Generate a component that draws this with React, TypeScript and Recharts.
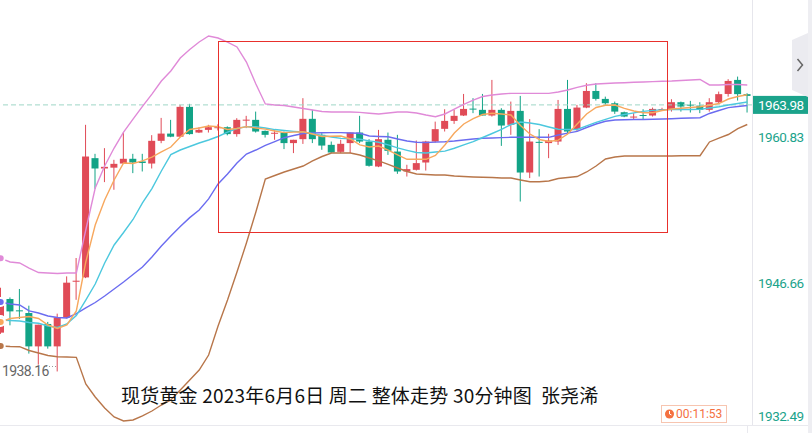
import React from 'react';
import { ComposedChart, XAxis, YAxis, Bar, Line, ReferenceLine } from 'recharts';

const opens = [1941.92,1945.18,1944.08,1943.82,1940.59,1942.76,1940.59,1943.37,1946.85,1947.27,
1958.82,1957.82,1957.90,1958.30,1958.76,1958.50,1958.30,1960.50,1961.20,1960.90,
1963.79,1961.30,1961.56,1961.72,1961.82,1961.15,1962.50,1962.53,1961.46,1961.20,
1961.30,1960.28,1960.66,1962.63,1961.08,1960.11,1959.43,1960.28,1961.30,1960.43,
1958.01,1960.60,1959.46,1957.53,1957.69,1958.40,1960.43,1961.66,1962.43,1962.95,
1963.62,1963.50,1962.95,1963.50,1962.05,1963.40,1957.43,1960.40,1960.28,1960.43,
1963.59,1961.63,1963.72,1965.33,1964.56,1964.14,1963.27,1962.80,1963.00,1962.95,
1963.53,1963.50,1964.24,1964.00,1963.91,1963.50,1964.24,1965.04,1966.40,1965.02];

const highs = [1946.27,1945.33,1946.15,1944.53,1942.69,1942.96,1943.76,1947.37,1949.15,1962.05,
1959.24,1959.79,1958.66,1961.30,1959.24,1959.24,1961.05,1962.72,1962.53,1963.98,
1964.08,1961.82,1962.05,1962.10,1961.90,1962.69,1962.92,1963.33,1961.50,1961.56,
1961.40,1960.60,1964.63,1963.50,1961.24,1960.43,1960.60,1961.30,1962.92,1960.66,
1961.56,1961.30,1961.08,1958.18,1960.53,1960.50,1962.36,1963.56,1963.50,1965.04,
1964.63,1965.04,1966.40,1963.66,1964.30,1964.85,1962.60,1961.63,1961.18,1964.46,
1966.40,1963.98,1966.08,1966.08,1964.78,1964.30,1963.33,1963.18,1963.56,1963.72,
1963.70,1964.53,1964.30,1964.37,1964.24,1964.63,1965.27,1966.47,1966.72,1965.11];

const lows = [1941.80,1942.63,1943.24,1939.89,1938.82,1940.37,1938.16,1943.30,1945.10,1947.20,
1955.85,1956.50,1955.76,1958.25,1957.37,1957.53,1957.82,1960.27,1960.85,1960.85,
1961.10,1961.25,1961.30,1961.50,1961.03,1960.90,1961.73,1961.30,1960.82,1960.60,
1959.70,1959.31,1960.20,1960.28,1959.63,1959.31,1959.31,1959.31,1960.28,1958.00,
1957.95,1959.14,1957.30,1957.04,1957.62,1957.62,1960.33,1961.40,1962.14,1962.90,
1963.18,1962.95,1962.85,1960.01,1961.08,1954.62,1956.89,1957.04,1958.82,1960.11,
1961.24,1961.40,1963.66,1964.40,1963.98,1963.11,1962.79,1962.53,1962.60,1962.85,
1963.45,1963.33,1963.33,1963.24,1963.18,1963.33,1964.14,1964.78,1964.40,1963.24];

const closes = [1945.21,1943.98,1944.02,1940.59,1942.69,1940.59,1943.40,1946.76,1946.95,1958.98,
1957.82,1957.98,1958.27,1958.76,1958.40,1958.35,1960.50,1961.20,1960.90,1963.79,
1961.15,1961.56,1961.82,1961.82,1961.15,1962.53,1962.55,1961.40,1961.08,1961.28,
1960.28,1960.60,1962.63,1960.66,1960.04,1959.37,1960.21,1961.30,1960.43,1958.08,
1960.66,1959.53,1957.53,1957.76,1958.34,1960.43,1961.63,1962.43,1962.92,1963.59,
1963.55,1962.95,1963.50,1961.98,1963.40,1957.43,1960.43,1960.33,1960.53,1963.59,
1961.40,1963.72,1965.33,1964.56,1964.14,1963.33,1962.85,1962.85,1962.97,1963.59,
1963.58,1964.24,1963.82,1963.95,1963.50,1964.24,1965.02,1966.30,1965.02,1964.85];

const ma5 = [1942.95,1943.29,1943.39,1943.48,1943.29,1942.66,1942.32,1942.66,1944.02,1948.76,
1952.35,1954.77,1956.71,1958.35,1958.30,1958.55,1958.93,1959.42,1959.90,1960.87,
1961.60,1961.74,1961.94,1961.86,1961.60,1961.69,1961.87,1961.74,1961.63,1961.45,
1961.29,1961.34,1961.38,1961.16,1960.92,1960.94,1960.97,1960.68,1960.10,1959.90,
1960.00,1959.61,1959.13,1958.71,1958.71,1958.71,1959.08,1960.10,1961.26,1962.13,
1962.66,1963.05,1963.17,1963.10,1963.00,1961.98,1961.16,1960.63,1960.43,1960.56,
1961.16,1962.13,1963.10,1963.73,1963.94,1963.97,1963.65,1963.39,1963.22,1963.22,
1963.44,1963.58,1963.65,1963.73,1963.80,1963.94,1964.11,1964.55,1964.79,1964.96];

const ma10 = [1943.14,1943.10,1943.05,1942.90,1942.83,1942.56,1942.42,1942.76,1943.58,1945.08,
1946.63,1948.67,1950.41,1951.62,1952.88,1954.48,1955.88,1957.58,1959.17,1959.61,
1959.95,1960.29,1960.58,1960.92,1961.35,1961.69,1961.87,1961.87,1961.74,1961.59,
1961.50,1961.42,1961.35,1961.18,1961.03,1960.87,1960.74,1960.70,1960.65,1960.50,
1960.36,1960.10,1959.81,1959.58,1959.37,1959.32,1959.42,1959.50,1959.78,1960.10,
1960.43,1960.82,1961.21,1961.60,1962.08,1962.32,1962.23,1962.08,1961.84,1961.62,
1961.60,1961.60,1961.94,1962.29,1962.58,1962.87,1963.05,1963.21,1963.35,1963.45,
1963.50,1963.53,1963.54,1963.54,1963.55,1963.68,1963.80,1963.97,1964.11,1964.26];

const bollMid = [1944.89,1944.69,1944.60,1944.02,1943.82,1943.53,1943.39,1943.34,1943.77,1944.31,
1944.84,1945.47,1946.15,1946.83,1947.55,1948.28,1949.25,1950.31,1951.28,1952.20,
1953.06,1953.80,1954.87,1956.32,1957.29,1958.35,1959.22,1959.61,1960.05,1960.43,
1960.80,1961.02,1961.21,1961.26,1961.28,1961.29,1961.29,1961.26,1961.23,1960.97,
1960.92,1960.89,1960.68,1960.48,1960.36,1960.34,1960.37,1960.41,1960.48,1960.58,
1960.68,1960.75,1960.77,1960.81,1960.84,1960.84,1960.84,1960.84,1960.84,1961.06,
1961.24,1961.42,1961.79,1962.13,1962.39,1962.52,1962.54,1962.56,1962.57,1962.59,
1962.61,1962.64,1962.68,1962.71,1962.74,1963.15,1963.44,1963.72,1963.82,1963.92];

const bollUpper = [1949.12,1948.76,1948.67,1948.18,1947.74,1947.70,1947.65,1947.70,1947.70,1951.86,
1955.93,1958.06,1959.80,1961.35,1962.61,1963.84,1965.03,1966.29,1967.26,1968.52,
1969.35,1970.07,1970.65,1970.46,1970.07,1969.59,1968.13,1966.00,1964.07,1963.97,
1963.92,1963.78,1963.63,1963.49,1963.34,1963.29,1963.29,1963.29,1963.26,1963.17,
1963.10,1963.19,1963.29,1963.29,1963.19,1963.00,1962.84,1963.10,1963.58,1964.02,
1964.45,1964.79,1964.94,1965.03,1965.10,1965.10,1965.10,1965.10,1965.10,1965.23,
1965.42,1965.68,1965.88,1966.00,1966.05,1966.10,1966.13,1966.17,1966.20,1966.23,
1966.27,1966.29,1966.34,1966.39,1966.44,1965.91,1965.91,1965.96,1965.96,1965.91];

const bollLower = [1940.63,1940.58,1940.56,1940.19,1939.95,1939.71,1939.59,1939.56,1939.53,1936.95,
1935.69,1934.62,1933.75,1933.36,1933.46,1933.85,1934.33,1934.91,1935.40,1936.36,
1937.33,1938.30,1939.75,1942.56,1945.08,1947.79,1950.60,1953.61,1956.80,1957.14,
1957.48,1957.77,1958.06,1958.55,1958.98,1959.32,1959.32,1959.32,1959.13,1958.84,
1958.55,1958.21,1957.87,1957.53,1957.29,1957.24,1957.19,1957.19,1957.09,1957.04,
1957.00,1956.97,1956.95,1956.90,1956.90,1956.71,1956.54,1956.54,1956.61,1956.85,
1956.95,1957.04,1957.48,1958.06,1958.74,1958.93,1959.03,1959.03,1959.03,1959.03,
1959.03,1959.03,1959.05,1959.05,1959.06,1960.39,1960.77,1961.11,1961.69,1962.08];

const categories = opens.map((_, i) => `K${i + 1}`);
const yTicks = [1932.49, 1946.66, 1960.83];
const lastPrice = 1963.98;
const yDomain = [1932.49, 1974.14];
const titleText = '现货黄金 2023年6月6日 周二 整体走势 30分钟图\u00a0\u00a0张尧浠';
const lowLabel = '1938.16';
const timerText = '00:11:53';

const RED = '#e04b57';
const GREEN = '#12a386';
const TEAL = '#1ba38b';

const data = categories.map((c, i) => ({
  t: c,
  range: [lows[i], highs[i]],
  o: opens[i], h: highs[i], l: lows[i], c: closes[i],
  ma5: ma5[i], ma10: ma10[i], mid: bollMid[i], up: bollUpper[i], dn: bollLower[i],
}));

const Candle = (props: any) => {
  const { x, y, width, height, payload } = props;
  if (!payload) return null;
  const top = Math.min(y, y + height);
  const h = Math.abs(height);
  const span = payload.h - payload.l;
  const k = span > 0 ? h / span : 0;
  const yOf = (v: number) => top + (payload.h - v) * k;
  const up = payload.c >= payload.o;
  const color = up ? RED : GREEN;
  const bTop = yOf(Math.max(payload.o, payload.c));
  const bBot = yOf(Math.min(payload.o, payload.c));
  const bh = Math.max(1, bBot - bTop);
  const cx = x + width / 2;
  return (
    <g>
      <line x1={cx} x2={cx} y1={top} y2={top + h} stroke={color} strokeWidth={1} />
      <rect x={x} y={bTop} width={width} height={bh} fill={color} />
    </g>
  );
};

const Tick = (props: any) => {
  const { x, y, payload } = props;
  const yy = Math.min(y, 416);
  return (
    <text x={x} y={yy} dy="0.35em" fill={TEAL} fontSize={13.5} fontFamily="Roboto" letterSpacing={-0.5} textAnchor="start">
      {Number(payload.value).toFixed(2)}
    </text>
  );
};

const PriceLabel = (props: any) => {
  const { viewBox } = props;
  if (!viewBox) return null;
  const bx = viewBox.x + viewBox.width;
  const by = viewBox.y;
  return (
    <g>
      <rect x={bx} y={by - 9} width={56} height={18} fill={TEAL} />
      <text x={bx + 6} y={by} dy="0.35em" fill="#fff" fontSize={13.5} fontFamily="Roboto" letterSpacing={-0.5}>
        {lastPrice.toFixed(2)}
      </text>
    </g>
  );
};

export default function App() {
  return (
    <div style={{ position: 'absolute', left: 0, top: 0, width: 812, height: 433, overflow: 'hidden', background: '#fff', fontFamily: 'Noto Sans' }}>
      <div style={{ position: 'absolute', left: -3.725, top: 0 }}>
        <ComposedChart width={816} height={430} data={data} margin={{ top: 0, right: 0, bottom: 0, left: 0 }}>
          <XAxis dataKey="t" hide />
          <YAxis orientation="right" domain={yDomain} ticks={yTicks} width={60} tick={<Tick />} interval={0}
            axisLine={false} tickLine={false} tickSize={0} tickMargin={6} allowDataOverflow />
          <ReferenceLine y={lastPrice} stroke="#9fd6c6" strokeDasharray="5 3" label={<PriceLabel />} />
          <Line type="linear" dataKey="up" stroke="#e08ad8" strokeWidth={1.4} dot={false} isAnimationActive={false} />
          <Line type="linear" dataKey="dn" stroke="#b8764a" strokeWidth={1.4} dot={false} isAnimationActive={false} />
          <Line type="linear" dataKey="mid" stroke="#6b6cf0" strokeWidth={1.4} dot={false} isAnimationActive={false} />
          <Line type="linear" dataKey="ma10" stroke="#4cc8de" strokeWidth={1.4} dot={false} isAnimationActive={false} />
          <Line type="linear" dataKey="ma5" stroke="#f7a85e" strokeWidth={1.4} dot={false} isAnimationActive={false} />
          <Bar dataKey="range" barSize={7} shape={<Candle />} isAnimationActive={false} />
        </ComposedChart>
      </div>
      <svg width={812} height={433} style={{ position: 'absolute', left: 0, top: 0, pointerEvents: 'none' }}>
        <rect x={218.5} y={41.5} width={449} height={191} fill="none" stroke="#e8302c" strokeWidth={1} />
        <line x1={752.5} x2={752.5} y1={0} y2={425} stroke="#e6e6ec" />
        <line x1={0} x2={812} y1={425.5} y2={425.5} stroke="#e9e9ee" />
        <line x1={747.5} x2={747.5} y1={425} y2={433} stroke="#e9e9ee" />
        <rect x={808} y={0} width={4} height={433} fill="#eeeef2" />
        <polygon points="792,40 808,33 808,97 792,90" fill="#ebebf0" />
        <polyline points="797.5,59 802.5,65 797.5,71" fill="none" stroke="#666" strokeWidth={1.5} />
        <text x={2} y={371.5} dy="0.35em" fill="#666" fontSize={14} fontFamily="Roboto" letterSpacing={-0.6}>{lowLabel}</text>
        <line x1={46} x2={58} y1={366.5} y2={366.5} stroke="#999" strokeDasharray="1 2" />
        <text x={121} y={403} fill="#111" fontSize={19} fontFamily="Noto Sans CJK SC" letterSpacing={0.2}>{titleText}</text>
        <rect x={661.5} y={405.5} width={65} height={17} fill="#fff" stroke="#f7c5b0" />
        <circle cx={669.5} cy={414} r={4.5} fill="#f4703f" />
        <polyline points="669.5,411 669.5,414 671.5,415" fill="none" stroke="#fff" strokeWidth={1} />
        <text x={676} y={414} dy="0.35em" fill="#f4703f" fontSize={12} fontFamily="Roboto">{timerText}</text>
      </svg>
    </div>
  );
}
